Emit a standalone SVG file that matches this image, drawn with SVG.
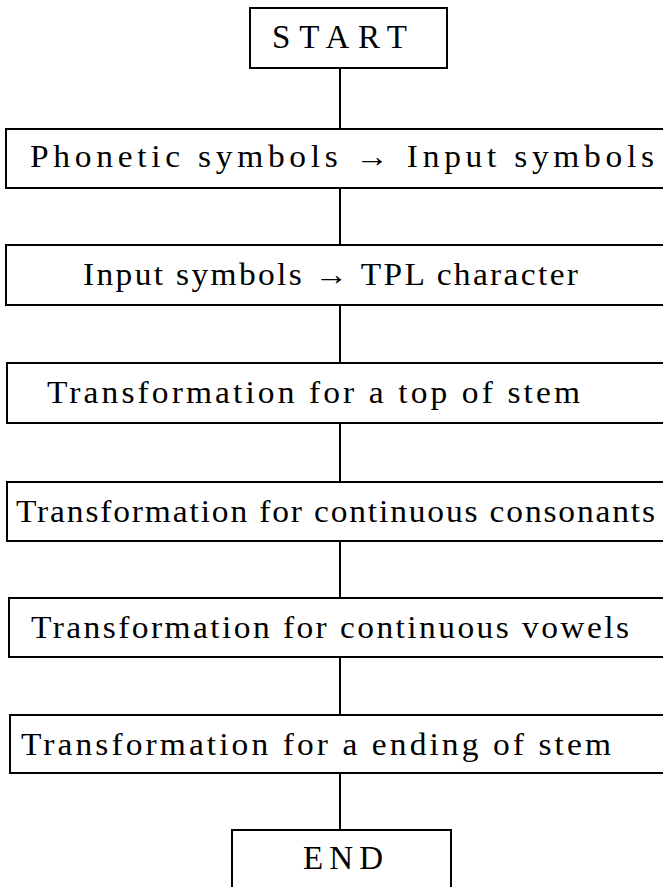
<svg xmlns="http://www.w3.org/2000/svg" width="663" height="887" viewBox="0 0 663 887">
  <style>
    .box { fill: #ffffff; stroke: #000000; stroke-width: 2; }
    .lbl { font-family: "Liberation Serif", "Times New Roman", serif; font-size: 31px; fill: #000000; }
    .term { font-family: "Liberation Serif", "Times New Roman", serif; font-size: 33px; fill: #000000; }
    .link { stroke: #000000; stroke-width: 2; fill: none; }
  </style>
  <rect width="663" height="887" fill="#ffffff"/>

  <!-- vertical flow lines between steps -->
  <g id="connectors">
    <line class="link" x1="340" y1="68" x2="340" y2="129"/>
    <line class="link" x1="340" y1="188" x2="340" y2="245"/>
    <line class="link" x1="340" y1="305" x2="340" y2="363"/>
    <line class="link" x1="340" y1="423" x2="340" y2="482"/>
    <line class="link" x1="340" y1="541" x2="340" y2="598"/>
    <line class="link" x1="340" y1="657" x2="340" y2="715"/>
    <line class="link" x1="340" y1="773" x2="340" y2="830"/>
  </g>

  <g id="start">
    <rect class="box" x="250" y="8" width="197" height="60"/>
    <text class="term" x="272" y="48" textLength="135" lengthAdjust="spacing">START</text>
  </g>

  <!-- step labels use a slightly widened face: x and length are given in the scaled frame -->
  <g id="phonetic-to-input">
    <rect class="box" x="6" y="129" width="700" height="59"/>
    <text class="lbl" transform="scale(1.08,1)" x="27.8" y="167.5" textLength="577.8" lengthAdjust="spacing">Phonetic symbols → Input symbols</text>
  </g>

  <g id="input-to-tpl">
    <rect class="box" x="6" y="245" width="700" height="60"/>
    <text class="lbl" transform="scale(1.08,1)" x="76.9" y="285.5" textLength="458.3" lengthAdjust="spacing">Input symbols → TPL character</text>
  </g>

  <g id="top-of-stem">
    <rect class="box" x="7" y="363" width="700" height="60"/>
    <text class="lbl" transform="scale(1.08,1)" x="43.5" y="403" textLength="493.5" lengthAdjust="spacing">Transformation for a top of stem</text>
  </g>

  <g id="continuous-consonants">
    <rect class="box" x="7" y="482" width="700" height="59"/>
    <text class="lbl" transform="scale(1.08,1)" x="14.8" y="522" textLength="591.7" lengthAdjust="spacing">Transformation for continuous consonants</text>
  </g>

  <g id="continuous-vowels">
    <rect class="box" x="9" y="598" width="700" height="59"/>
    <text class="lbl" transform="scale(1.08,1)" x="28.7" y="638.5" textLength="553.7" lengthAdjust="spacing">Transformation for continuous vowels</text>
  </g>

  <g id="ending-of-stem">
    <rect class="box" x="10" y="715" width="700" height="58"/>
    <text class="lbl" transform="scale(1.08,1)" x="19.4" y="755" textLength="546.3" lengthAdjust="spacing">Transformation for a ending of stem</text>
  </g>

  <g id="end">
    <rect class="box" x="232" y="830" width="219" height="70"/>
    <text class="term" x="303" y="869" textLength="80" lengthAdjust="spacing">END</text>
  </g>
</svg>
